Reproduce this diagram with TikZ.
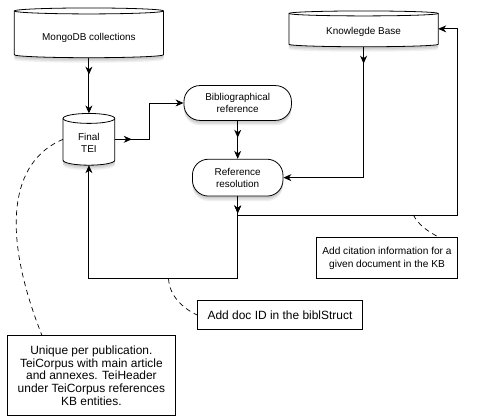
\documentclass[tikz,border=0pt]{standalone}
\usepackage{fontspec}
\setmainfont{Liberation Sans}
\usetikzlibrary{arrows.meta,shadows,decorations.markings}
\tikzset{
  tipA/.tip={Stealth[length=8pt,width=7pt,inset=2.5pt]},
  softshadow/.style={drop shadow={opacity=0.16,shadow xshift=0pt,shadow yshift=-2pt},
                     drop shadow={opacity=0.16,shadow xshift=0pt,shadow yshift=-3.5pt},
                     drop shadow={opacity=0.12,shadow xshift=0pt,shadow yshift=-5pt}},
  shapeline/.style={draw=black,line width=0.8pt,fill=white},
  cylnode/.style={inner sep=0pt, outer sep=0pt},
  cyltext/.style={align=center, inner sep=0pt},
  roundbox/.style={shapeline, softshadow, rounded corners=16pt, align=center, inner sep=0pt},
  notebox/.style={draw=black, line width=0.8pt, fill=white, align=center, inner sep=0pt,
                  font=\fontsize{12pt}{12.8pt}\selectfont},
  flow/.style={draw=black, line width=0.9pt, -tipA, postaction={decorate},
               decoration={markings, mark=at position 17pt with {\arrow{tipA}}}},
  notelink/.style={draw=black, line width=0.7pt, dash pattern=on 5pt off 4pt},
}
\newcommand\cylpath[6]{%
  \draw[shapeline,softshadow] (#1,#2+#5) -- (#1,#4-#5)
     arc[start angle=180,end angle=360,x radius=#6pt,y radius=#5pt] -- (#3,#2+#5)
     arc[start angle=0,end angle=180,x radius=#6pt,y radius=#5pt] -- cycle;
  \draw[line width=0.8pt] (#1,#2+#5) arc[start angle=180,end angle=360,x radius=#6pt,y radius=#5pt];
}
\begin{document}
\begin{tikzpicture}[x=1pt,y=-1pt,font=\fontsize{10pt}{12pt}\selectfont]
\fill[white] (0,0) rectangle (485,419);

% cylinders
\cylpath{12}{8}{162}{58}{3}{75}
\node[cylnode, minimum width=150pt, minimum height=50pt] (mongo) at (87,33) {};
\node[cyltext] (mongot) at (87,38.5) {MongoDB collections};

\cylpath{61}{114}{113}{166}{5}{26}
\node[cylnode, minimum width=52pt, minimum height=52pt] (tei) at (87,140) {};
\node[cyltext] (teit) at (87,144) {Final\\TEI};

\cylpath{288}{11}{438}{47}{2.5}{75}
\node[cylnode, minimum width=150pt, minimum height=36pt] (kb) at (363,29) {};
\node[cyltext] (kbt) at (363,32.5) {Knowlegde Base};

% rounded process boxes
\node[roundbox, minimum width=108pt, minimum height=35pt] (bib) at (236.5,103.5) {Bibliographical\\reference};
\node[roundbox, minimum width=91pt, minimum height=37pt] (res) at (236.5,178.5) {Reference\\resolution};

% notes
\node[notebox, minimum width=141pt, minimum height=41pt, font=\fontsize{10.2pt}{12.8pt}\selectfont] (citen) at (386.5,259.5) {Add citation information for a\\given document in the KB};
\node[notebox, minimum width=166pt, minimum height=29pt] (docn) at (279,316.5) {Add doc ID in the biblStruct};
\node[notebox, minimum width=169pt, minimum height=80pt] (pubn) at (89.5,377.5) {Unique per publication.\\TeiCorpus with main article\\and annexes. TeiHeader\\under TeiCorpus references\\KB entities.};

% helper coordinates
\coordinate (tb) at (148,140);
\coordinate (jn) at (236.5,216);
\coordinate (kbr) at (457,29);
\coordinate (low) at (236.5,280);
\coordinate (citeanchor) at (413,216);
\coordinate (citetop) at (440,239);
\coordinate (docanchor) at (167,280);
\coordinate (pubtop) at (40,337.5);

% connectors
\draw[flow] (mongo.south) -- (tei.north);
\draw[flow] (tei.east) -- (tb) |- (bib.west);
\draw[flow] (bib.south) -- (res.north);
\draw[flow] (kb.south) |- (res.east);
\draw[flow] (res.south) -- (jn) -| (kbr) -- (kb.east);
\draw[flow] (res.south) -- (low) -| (tei.south);

% note links
\draw[notelink] (citeanchor) .. controls (418,226) and (428,233) .. (citetop);
\draw[notelink] (docanchor) .. controls (168,298) and (182,310) .. (docn.west);
\draw[notelink] (tei.west) .. controls (8,162) and (-2,232) .. (pubtop);
\end{tikzpicture}
\end{document}
